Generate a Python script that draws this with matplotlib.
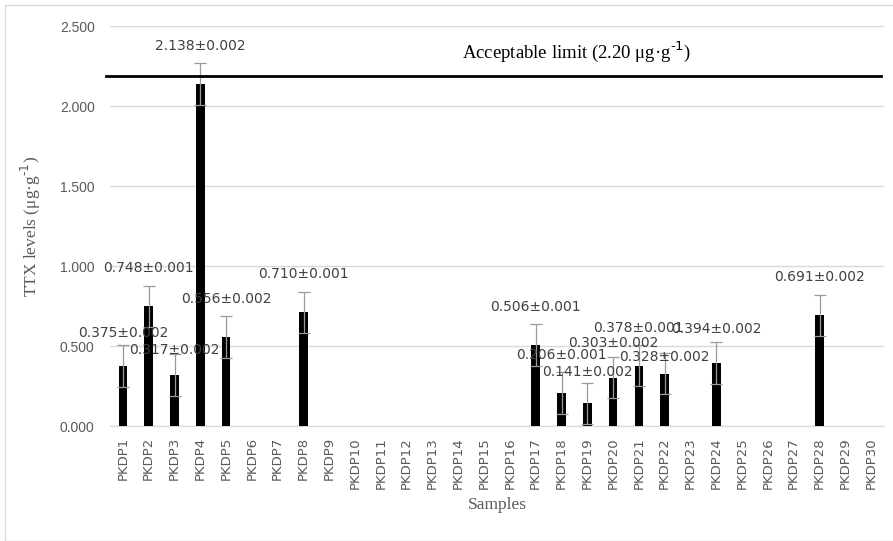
import matplotlib
matplotlib.use("Agg")
import matplotlib.pyplot as plt
from matplotlib.patches import Rectangle

samples = [f"PKDP{i}" for i in range(1, 31)]
values = [0.375, 0.748, 0.317, 2.138, 0.556, 0, 0, 0.710, 0, 0,
          0, 0, 0, 0, 0, 0, 0.506, 0.206, 0.141, 0.303,
          0.378, 0.328, 0, 0.394, 0, 0, 0, 0.691, 0, 0]
sds = [0.002, 0.001, 0.002, 0.002, 0.002, 0, 0, 0.001, 0, 0,
       0, 0, 0, 0, 0, 0, 0.001, 0.001, 0.002, 0.002,
       0.001, 0.002, 0, 0.002, 0, 0, 0, 0.002, 0, 0]
err_bar = 0.13
limit_value = 2.185
limit_text = "Acceptable limit (2.20 μg·g$^{\\text{-1}}$)"
yticks = [0.0, 0.5, 1.0, 1.5, 2.0, 2.5]

# label offsets in pixels above bar top
label_dy = {0: 33, 2: 25, 18: 31, 19: 35, 21: 17, 23: 34}

fig = plt.figure(figsize=(8.93, 5.41), dpi=100)
fig.patches.append(Rectangle((5/893, 0), 1.0, 1 - 5/541, transform=fig.transFigure,
                             fill=False, edgecolor="#d9d9d9", linewidth=1.0))
ax = fig.add_axes([110/893, (541-426)/541, (884-110)/893, 400/541])

x = list(range(len(samples)))
ax.bar(x, values, width=0.33, color="black", zorder=3)
ax.errorbar([xi for xi, v in zip(x, values) if v > 0],
            [v for v in values if v > 0],
            yerr=[err_bar for v in values if v > 0],
            fmt="none", ecolor="#9a9a9a", elinewidth=0.9, capsize=4, capthick=0.9, zorder=4)

for i, (v, s) in enumerate(zip(values, sds)):
    if v > 0:
        ax.annotate(f"{v:.3f}±{s:.3f}", (i, v), xytext=(0, label_dy.get(i, 38)),
                    textcoords="offset pixels", ha="center", va="center",
                    fontsize=10, color="#404040", family="DejaVu Sans", zorder=5)

ax.set_xlim(-0.5, len(samples) - 0.5)
ax.set_ylim(0, 2.5)
ax.set_yticks(yticks)
ax.set_yticklabels([f"{t:.3f}" for t in yticks], fontsize=10, color="#595959",
                   family="Liberation Sans")
ax.set_xticks(x)
ax.set_xticklabels(samples, rotation=90, fontsize=9.5, color="#595959", family="DejaVu Sans")
ax.tick_params(axis="x", length=0, pad=8)
ax.tick_params(axis="y", length=0, pad=11)
ax.grid(axis="y", color="#d9d9d9", linewidth=1.0, zorder=0)
for sp in ["top", "right", "left"]:
    ax.spines[sp].set_visible(False)
ax.spines["bottom"].set_color("#d9d9d9")

ax.plot([-0.65, 29.4], [limit_value, limit_value], color="black", linewidth=2.0,
        clip_on=False, zorder=5)
ax.text(13.15, 2.34, limit_text, fontsize=13.5, family="Liberation Serif",
        color="black", ha="left", va="center")

ax.set_ylabel("TTX levels (μg·g$^{\\text{-1}}$)", fontsize=12.5, family="Liberation Serif",
              color="#595959", labelpad=12)
ax.set_xlabel("Samples", fontsize=12.5, family="Liberation Serif", color="#595959", labelpad=6)

fig.savefig("out.png", dpi=100)
